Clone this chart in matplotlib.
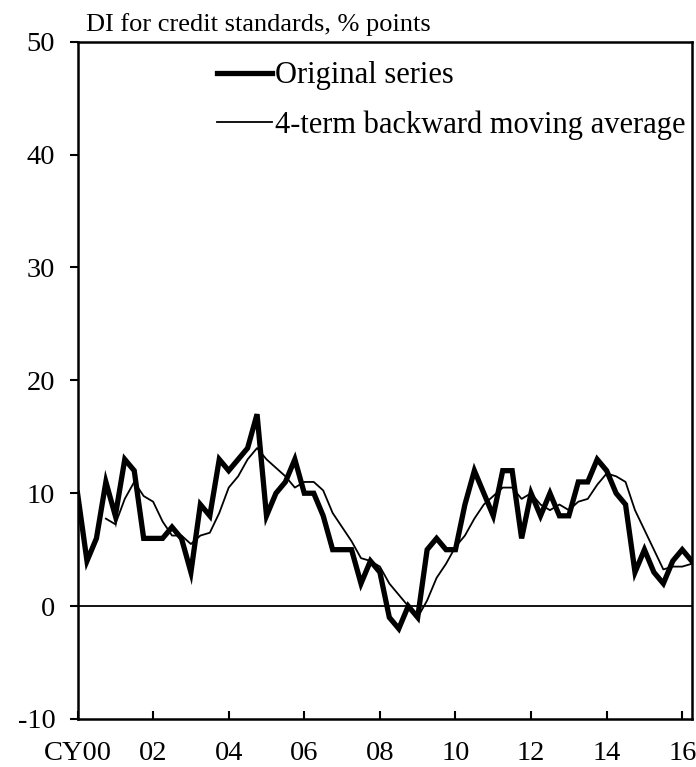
import matplotlib
matplotlib.use("Agg")
import matplotlib.pyplot as plt
import numpy as np

# Quarterly data, CY2000 Q1 .. CY2016 Q2
original = [10, 4, 6, 11, 8, 13, 12, 6, 6, 6, 7, 6, 3, 9, 8, 13, 12, 13, 14, 17,
            8, 10, 11, 13, 10, 10, 8, 5, 5, 5, 2, 4, 3, -1, -2, 0, -1, 5, 6, 5,
            5, 9, 12, 10, 8, 12, 12, 6, 10, 8, 10, 8, 8, 11, 11, 13, 12, 10, 9, 3,
            5, 3, 2, 4, 5, 4]
# 4-term backward moving average (starts at the 4th quarter)
moving_avg = [7.75, 7.25, 9.5, 11, 9.75, 9.25, 7.5, 6.25, 6.25, 5.5, 6.25, 6.5,
              8.25, 10.5, 11.5, 13, 14, 13, 12.25, 11.5, 10.5, 11, 11, 10.25,
              8.25, 7, 5.75, 4.25, 4, 3.5, 2, 1, 0, -1, 0.5, 2.5, 3.75, 5.25,
              6.25, 7.75, 9, 9.75, 10.5, 10.5, 9.5, 10, 9, 8.5, 9, 8.5, 9.25,
              9.5, 10.75, 11.75, 11.5, 11, 8.5, 6.75, 5, 3.25, 3.5, 3.5, 3.75]
tick_years = [0, 2, 4, 6, 8, 10, 12, 14, 16]
tick_labels = ["CY00", "02", "04", "06", "08", "10", "12", "14", "16"]
y_ticks = [-10, 0, 10, 20, 30, 40, 50]

plt.rcParams['font.family'] = ['Liberation Serif', 'DejaVu Serif']

fig = plt.figure(figsize=(6.96, 7.67), dpi=100)
ax = fig.add_axes([0.1114, 0.0626, 0.9938 - 0.1114, 0.9456 - 0.0626])

x_orig = np.arange(len(original)) * 0.25
x_ma = (np.arange(len(moving_avg)) + 3) * 0.25

ax.axhline(0, color='black', lw=1.3, zorder=1)
ax.plot(x_orig, original, color='black', lw=3.8, solid_joinstyle='miter',
        label='Original series', zorder=3)
ax.plot(x_ma, moving_avg, color='black', lw=1.3,
        label='4-term backward moving average', zorder=2)

ax.set_xlim(0, 16.25)
ax.set_ylim(-10, 50)
ax.set_xticks(tick_years)
ax.set_xticklabels(tick_labels)
ax.set_yticks(y_ticks)
ax.set_yticklabels([str(v) for v in y_ticks])

ax.tick_params(axis='x', direction='in', length=6, width=1.5, labelsize=20.5, pad=16)
ax.tick_params(axis='y', direction='out', length=6, width=1.5, labelsize=20.5, pad=10)
for s in ax.spines.values():
    s.set_linewidth(1.8)

ax.text(0.013, 1.008, 'DI for credit standards, % points', transform=ax.transAxes,
        fontsize=19, ha='left', va='bottom')

leg = ax.legend(loc='upper left', bbox_to_anchor=(0.2266, 0.971), frameon=False,
                fontsize=22, handlelength=1.8, handletextpad=0.1,
                labelspacing=0.65, borderpad=0, borderaxespad=0)

fig.savefig('out.png', dpi=100)
